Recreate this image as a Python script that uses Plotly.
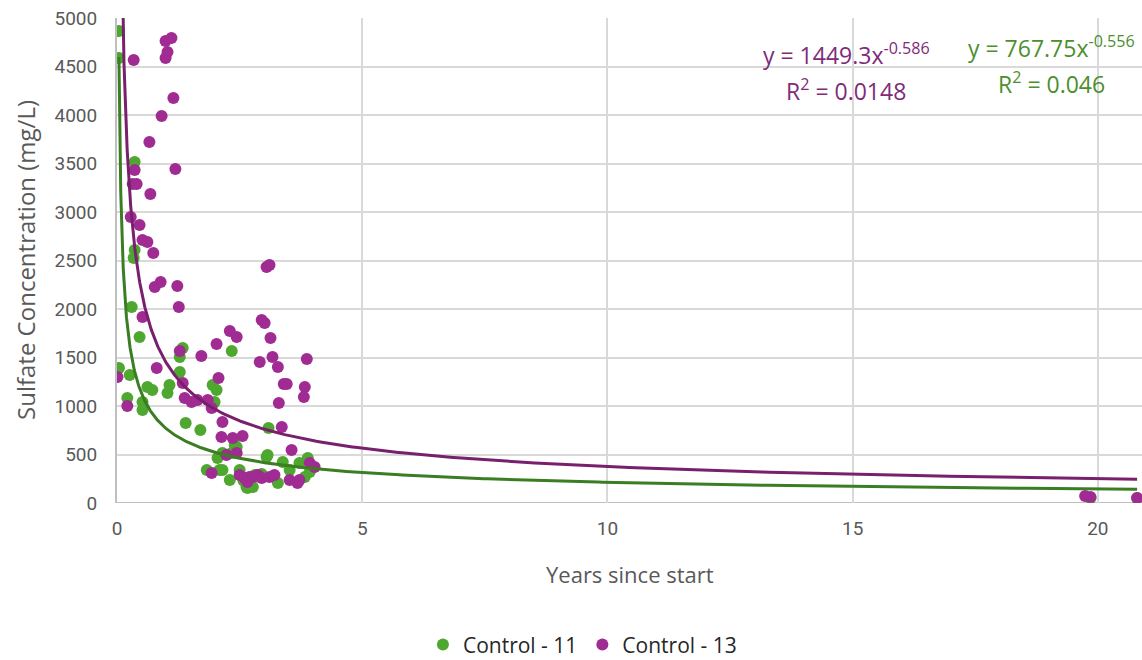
import numpy as np
import plotly.graph_objects as go

# ---- Data ----
green_x = [0.04, 0.04, 0.04, 0.26, 0.21, 0.52, 0.52, 0.36, 0.36, 0.34, 0.30, 0.46,
           0.62, 0.72, 1.03, 1.07, 1.28, 1.28, 1.34, 1.40, 1.70, 1.95, 2.03, 1.99,
           2.34, 1.83, 2.09, 2.05, 2.15, 2.34, 2.40, 2.44, 2.30, 2.64, 2.66, 2.77,
           3.09, 3.05, 3.07, 3.28, 3.38, 3.72, 3.83, 3.89, 3.93, 2.15, 2.50, 2.81,
           3.52, 2.58, 2.95, 19.85, 20.8]
green_y = [4866, 4588, 1392, 1320, 1082, 1041, 959, 3515, 2608, 2526, 2021, 1711,
           1196, 1165, 1134, 1216, 1351, 1505, 1598, 825, 753, 1216, 1165, 1041,
           1567, 340, 340, 464, 515, 515, 598, 577, 237, 165, 155, 165,
           773, 474, 495, 206, 423, 412, 268, 464, 320, 340, 340, 289,
           340, 230, 300, 52, 52]

purple_x = [0.01, 0.21, 0.28, 0.34, 0.36, 0.32, 0.40, 0.46, 0.52, 0.62, 0.74, 0.66,
            0.68, 0.52, 0.81, 0.77, 0.89, 0.91, 0.99, 1.03, 0.99, 1.11, 1.15, 1.19,
            1.23, 1.26, 1.28, 1.34, 1.38, 1.52, 1.64, 1.85, 1.93, 1.72, 2.03, 2.07,
            2.15, 2.13, 2.36, 2.56, 2.23, 2.44, 1.93, 2.50, 2.70, 2.30, 2.44, 2.91,
            2.95, 3.01, 3.05, 3.11, 3.13, 3.17, 3.28, 3.87, 3.40, 3.46, 3.83, 3.81,
            3.30, 3.36, 3.56, 3.93, 4.03, 2.77, 2.87, 2.95, 3.11, 3.21, 3.52, 3.68,
            3.72, 2.60, 2.66, 19.74, 19.85, 20.8]
purple_y = [1299, 1000, 2948, 4567, 3433, 3289, 3289, 2866, 2711, 2691, 2577, 3722,
            3186, 1918, 1392, 2227, 2278, 3990, 4588, 4649, 4763, 4794, 4175, 3443,
            2237, 2021, 1567, 1237, 1082, 1041, 1062, 1062, 979, 1515, 1639, 1289,
            835, 680, 670, 691, 495, 515, 309, 289, 268, 1773, 1711, 1454,
            1887, 1856, 2433, 2454, 1701, 1505, 1402, 1485, 1227, 1227, 1196, 1093,
            1031, 784, 546, 412, 371, 268, 289, 258, 268, 289, 237, 206,
            237, 258, 216, 72, 62, 52]

# Power trendline coefficients shown on the chart
green_a, green_b, green_r2 = 767.75, -0.556, 0.046
purple_a, purple_b, purple_r2 = 1449.3, -0.586, 0.0148

x_ticks = [0, 5, 10, 15, 20]
y_ticks = [0, 500, 1000, 1500, 2000, 2500, 3000, 3500, 4000, 4500, 5000]

GREEN = "#4EA72E"
PURPLE = "#A02B93"
GREEN_LINE = "#3B7D23"
PURPLE_LINE = "#78206E"
TXT = "#595959"
FONT = "Roboto, Liberation Sans, sans-serif"
WIDE = "Open Sans, Liberation Sans, sans-serif"


def trend(xs, a, b):
    xt = np.geomspace(min(xs), max(xs), 600)
    return xt, a * xt ** b


fig = go.Figure()
fig.add_trace(go.Scatter(x=green_x, y=green_y, mode="markers", name="Control - 11",
                         marker=dict(color=GREEN, size=12)))
fig.add_trace(go.Scatter(x=purple_x, y=purple_y, mode="markers", name="Control - 13",
                         marker=dict(color=PURPLE, size=12)))
gx, gy = trend(green_x, green_a, green_b)
px, py = trend(purple_x, purple_a, purple_b)
fig.add_trace(go.Scatter(x=gx, y=gy, mode="lines", showlegend=False,
                         line=dict(color=GREEN_LINE, width=3), hoverinfo="skip"))
fig.add_trace(go.Scatter(x=px, y=py, mode="lines", showlegend=False,
                         line=dict(color=PURPLE_LINE, width=3), hoverinfo="skip"))

fig.update_layout(
    width=1142, height=660,
    margin=dict(l=117, r=0, t=18, b=157),
    paper_bgcolor="white", plot_bgcolor="white",
    font=dict(family=FONT, color=TXT, size=18),
    showlegend=True,
    legend=dict(orientation="h", xref="container", yref="container",
                x=0.51, y=0.023, xanchor="center", yanchor="middle",
                font=dict(size=21, color="#262626", family=WIDE), itemwidth=30),
    xaxis=dict(range=[0, 20.9], tickvals=x_ticks, showgrid=True,
               gridcolor="#d9d9d9", gridwidth=2, zeroline=False,
               showline=False, ticks="", ticklabelstandoff=12,
               tickfont=dict(size=19, color=TXT)),
    yaxis=dict(range=[0, 5000], tickvals=y_ticks, showgrid=True,
               gridcolor="#d9d9d9", gridwidth=2, zeroline=False,
               showline=True, linecolor="#bfbfbf", linewidth=2,
               ticks="", ticklabelstandoff=14,
               tickfont=dict(size=19, color=TXT)),
)
fig.add_shape(type="line", xref="paper", yref="y", x0=0, x1=1, y0=0, y1=0,
              line=dict(color="#bfbfbf", width=2), layer="below")

fig.add_annotation(text="Years since start", xref="paper", yref="paper",
                   x=0.5, y=0, yshift=-71, yanchor="middle", showarrow=False,
                   font=dict(size=22, color=TXT, family=WIDE))
fig.add_annotation(text="Sulfate Concentration (mg/L)", xref="paper", yref="paper",
                   x=0, y=0.5, xshift=-110, textangle=-90, showarrow=False,
                   font=dict(size=24, color=TXT, family=WIDE))

# Trendline equations, one annotation per line (boxes touch at a shared edge)
for xc, yb, a, b, r2, col in [
        (14.87, 4443, purple_a, purple_b, purple_r2, "#7E2B78"),
        (19.05, 4515, green_a, green_b, green_r2, "#4B8F2E")]:
    fig.add_annotation(text=f"y = {a}x<sup>{b}</sup>", xref="x", yref="y",
                       x=xc, y=yb, showarrow=False, xanchor="center", yanchor="bottom",
                       borderpad=0, font=dict(size=23, color=col, family=WIDE))
    fig.add_annotation(text=f"R<sup>2</sup> = {r2}", xref="x", yref="y",
                       x=xc, y=yb, showarrow=False, xanchor="center", yanchor="top",
                       borderpad=0, font=dict(size=23, color=col, family=WIDE))

fig.write_html("out.html")
